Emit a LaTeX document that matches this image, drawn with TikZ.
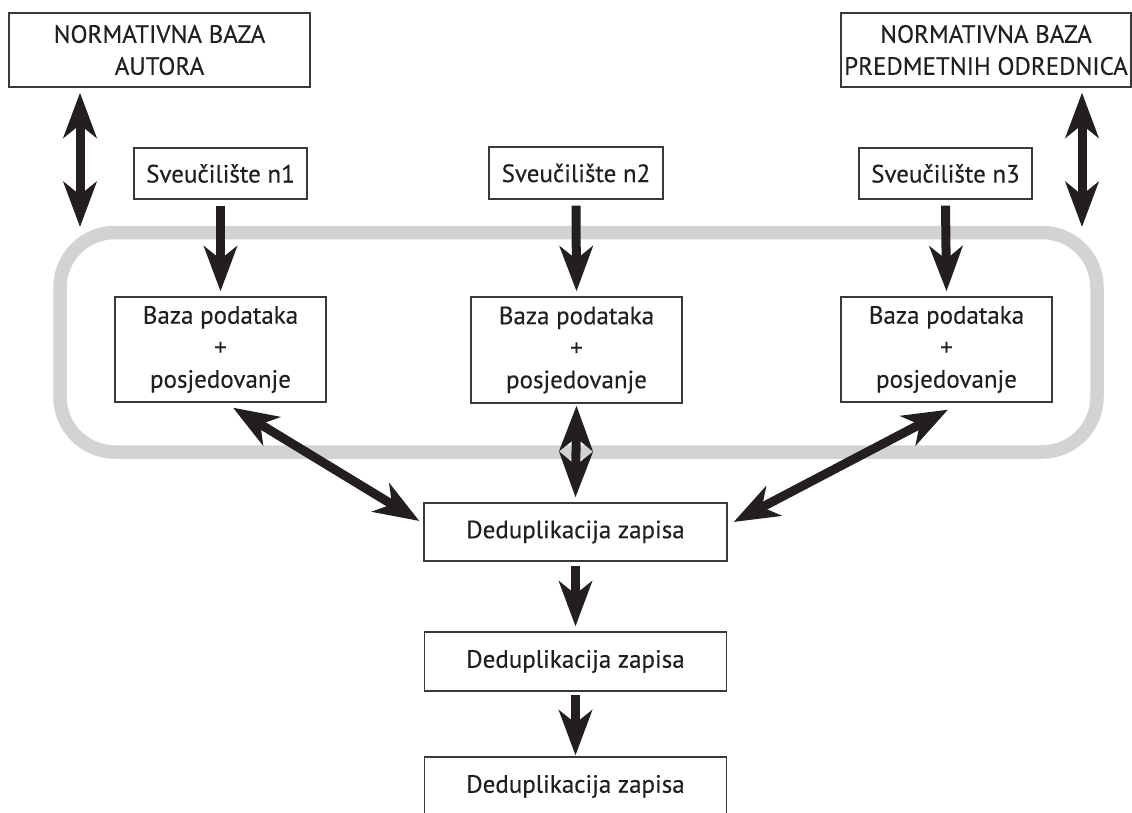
\documentclass[tikz,border=0pt]{standalone}
\usepackage{fontspec}
\setmainfont{PT Sans}[FakeBold=0.3]
\usetikzlibrary{arrows.meta,calc}
\definecolor{inkc}{HTML}{231F20}
\definecolor{boxc}{HTML}{3A3A3A}
\definecolor{groupc}{HTML}{D1D3D4}
\tikzset{
  box/.style={draw=boxc, line width=1.3pt, fill=white, text=inkc, align=center,
    inner sep=0pt, font=\fontsize{25}{32}\selectfont},
  onearrow/.style={line width=9pt, draw=inkc, -{Stealth[length=45pt,width=33pt,inset=13pt]}},
  dblarrow/.style={line width=9pt, draw=inkc, {Stealth[length=45pt,width=33pt,inset=13pt]}-{Stealth[length=45pt,width=33pt,inset=13pt]}},
}
\begin{document}
\begin{tikzpicture}[x=1pt,y=-1pt]
\useasboundingbox (0,0) rectangle (1132,812);
% group outline
\draw[groupc, line width=13.5pt, rounded corners=55pt] (60,232.5) rectangle (1097,452);
% nodes
\node[box, minimum width=301pt, minimum height=74pt] (A) at (159.5,50) {NORMATIVNA BAZA\\AUTORA};
\node[box, minimum width=290pt, minimum height=74pt] (B) at (986,50) {NORMATIVNA BAZA\\PREDMETNIH ODREDNICA};
\node[box, minimum width=173pt, minimum height=51pt] (n1) at (220.5,173.5) {Sveučilište n1};
\node[box, minimum width=174pt, minimum height=52pt] (n2) at (576,173) {Sveučilište n2};
\node[box, minimum width=173pt, minimum height=51pt] (n3) at (945.5,173.5) {Sveučilište n3};
\node[box, minimum width=211pt, minimum height=105pt] (b1) at (220.5,349.5) {Baza podataka\\+\\posjedovanje};
\node[box, minimum width=211pt, minimum height=106pt] (b2) at (576.5,350) {Baza podataka\\+\\posjedovanje};
\node[box, minimum width=211pt, minimum height=105pt] (b3) at (946.5,349.5) {Baza podataka\\+\\posjedovanje};
\node[box, minimum width=303pt, minimum height=58pt] (d1) at (575.5,532) {Deduplikacija zapisa};
\node[box, minimum width=302pt, minimum height=59pt] (d2) at (575.5,661.5) {Deduplikacija zapisa};
\node[box, minimum width=302pt, minimum height=59pt] (d3) at (575.5,786.5) {Deduplikacija zapisa};
% free ends on the group outline
\coordinate (gl) at (80,227);
\coordinate (gr) at (1082,227);
% connectors
\draw[dblarrow] ([yshift=-5pt]A.south -| gl) -- (gl);
\draw[dblarrow] ([yshift=-5pt]B.south -| gr) -- (gr);
\draw[onearrow] ([yshift=-6pt]n1.south) -- ([yshift=5pt]b1.north);
\draw[onearrow] ([yshift=-6pt]n2.south) -- ([yshift=5pt]b2.north);
\draw[onearrow] ([yshift=-6pt]n3.south) -- ([yshift=5pt]b3.north);
\draw[dblarrow] ([xshift=12.5pt,yshift=-5pt]b1.south) -- ([xshift=-4pt,yshift=11pt]d1.west);
\draw[dblarrow] ([yshift=-2pt]b2.south) -- ([yshift=5pt]d1.north);
\draw[dblarrow] ([xshift=1.5pt,yshift=-7pt]b3.south) -- ([xshift=6pt,yshift=10pt]d1.east);
\draw[onearrow] ([yshift=-4pt]d1.south) -- ([yshift=5pt]d2.north);
\draw[onearrow] ([yshift=-3pt]d2.south) -- ([yshift=1pt]d3.north);
\end{tikzpicture}
\end{document}
